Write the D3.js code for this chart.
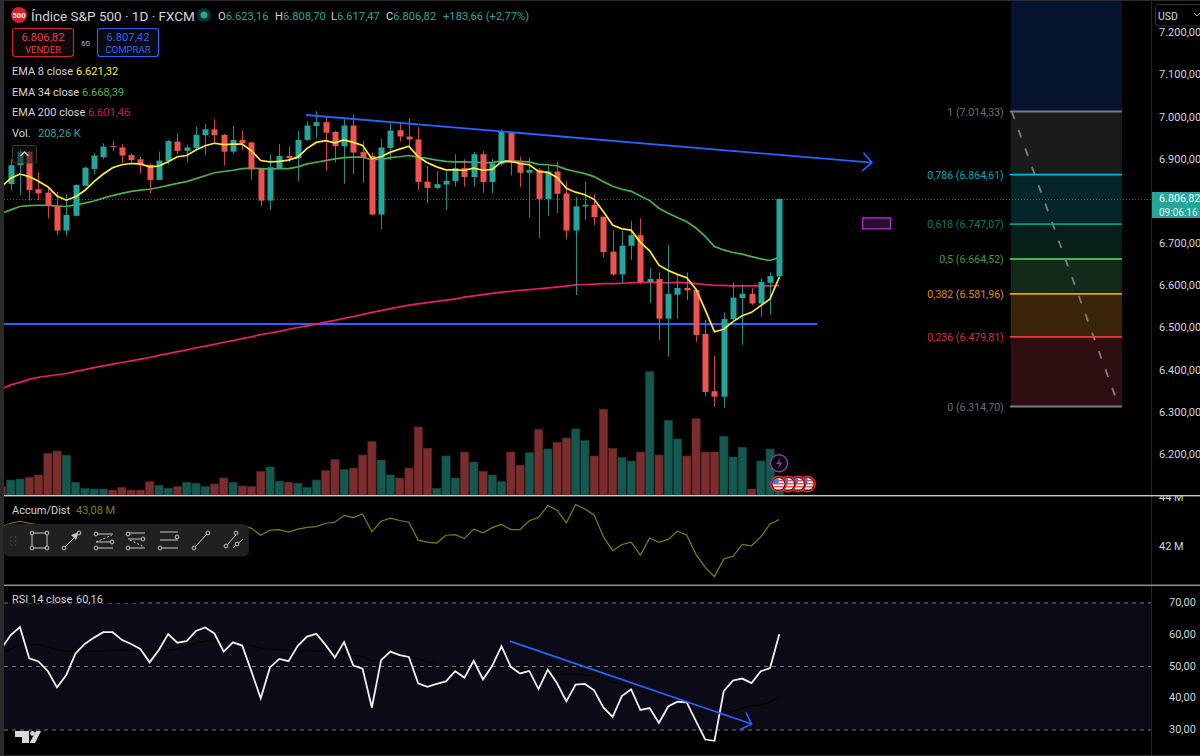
<!DOCTYPE html>
<html><head><meta charset="utf-8">
<script src="https://d3js.org/d3.v7.min.js"></script>
<style>html,body{margin:0;padding:0;background:#000;overflow:hidden}svg{display:block}text{font-family:Roboto,sans-serif}</style>
</head><body><svg id="c" width="1200" height="756"></svg>
<script>
// ---------- DATA ----------
const opens=[6842,6887,6919,6830,6822,6791,6732,6767,6838,6878,
6906,6932,6929,6911,6901,6888,6852,6897,6943,6921,
6928,6958,6972,6959,6919,6947,6941,6878,6803,6880,
6909,6903,6947,6980,6989,6966,6932,6981,6918,6909,
6770,6928,6970,6955,6948,6848,6833,6841,6849,6880,
6859,6913,6847,6890,6965,6894,6869,6876,6807,6872,
6820,6732,6789,6793,6765,6682,6628,6696,6721,6610,
6617,6523,6580,6596,6591,6487,6351,6338,6522,6572,
6582,6559,6608,6623.16];
const closes=[6887,6919,6828,6820,6790,6732,6769,6840,6881,6910,
6931,6930,6910,6899,6887,6852,6898,6944,6921,6929,
6959,6972,6958,6919,6947,6939,6877,6803,6882,6909,
6904,6947,6981,6989,6964,6932,6981,6917,6906,6770,
6929,6969,6955,6948,6847,6833,6842,6850,6880,6859,
6913,6847,6891,6967,6893,6869,6876,6807,6872,6819,
6732,6789,6793,6764,6681,6628,6696,6721,6610,6617,
6523,6582,6596,6590,6484,6349,6338,6522,6573,6582,
6559,6610,6624,6806.82];
const highs=[6901,6925,6921,6870,6836,6824,6818,6841,6883,6915,
6939,6945,6937,6915,6907,6891,6919,6947,6962,6936,
6978,6985,6996,6961,6980,6970,6943,6879,6913,6937,
6932,6968,6991,7015,7004,6969,6996,7008,6945,6917,
6949,6986,6990,6998,6977,6885,6873,6872,6913,6901,
6918,6921,6902,6972,6966,6907,6905,6880,6886,6895,
6848,6812,6848,6818,6765,6733,6731,6755,6761,6644,
6633,6697,6627,6633,6592,6520,6435,6538,6609,6600,
6595,6619,6633,6808.70];
const lows=[6827,6815,6803,6804,6761,6721,6720,6766,6838,6865,
6901,6921,6891,6893,6868,6820,6851,6889,6913,6893,
6925,6911,6939,6886,6913,6923,6853,6790,6781,6879,
6894,6850,6945,6952,6874,6893,6843,6866,6845,6768,
6735,6899,6943,6935,6828,6797,6830,6781,6836,6836,
6836,6822,6820,6884,6863,6835,6763,6714,6767,6773,
6711,6579,6757,6745,6668,6625,6607,6662,6605,6561,
6472,6433,6523,6567,6468,6340,6314,6311,6520,6461,
6555,6528,6533,6617.47];
// the series below start one session earlier (cut off at the pane's left edge)
const volumes=[116,
208,222,245,278,579,611,551,176,93,83,
83,69,106,69,69,185,134,93,116,176,
162,116,153,236,176,125,116,329,389,190,
176,162,106,208,338,495,352,375,556,741,
486,278,236,375,945,648,93,542,236,597,
458,329,278,185,597,412,588,912,639,732,
792,917,755,542,1190,648,519,472,597,1713,
556,1037,778,542,1060,597,597,815,528,662,
83,472,639,208.26];
const ema8=[6836,
6856,6866,6860,6849,6836,6814,6804,6812,6827,6848,
6866,6881,6888,6891,6890,6883,6885,6895,6907,6910,
6923,6933,6939,6936,6937,6937,6921,6898,6895,6896,
6899,6906,6927,6941,6945,6940,6947,6941,6934,6902,
6907,6918,6925,6932,6907,6893,6883,6876,6876,6875,
6880,6875,6877,6895,6896,6891,6888,6872,6870,6858,
6832,6823,6817,6806,6777,6745,6736,6733,6704,6684,
6650,6637,6628,6620,6593,6544,6492,6498,6516,6530,
6538,6554,6570,6621.32];
const ema34=[6773,
6781,6789,6791,6792,6792,6790,6789,6793,6797,6802,
6809,6815,6820,6825,6828,6830,6834,6839,6844,6848,
6855,6862,6869,6872,6875,6879,6880,6879,6878,6879,
6879,6883,6890,6894,6898,6902,6905,6906,6906,6900,
6901,6905,6907,6910,6906,6903,6899,6896,6895,6895,
6894,6893,6893,6897,6897,6896,6895,6889,6888,6885,
6877,6872,6867,6860,6848,6837,6830,6825,6814,6803,
6785,6773,6763,6753,6738,6718,6694,6686,6680,6676,
6670,6665,6661,6668.39];
const ema200=[6356,
6366,6372,6379,6384,6387,6390,6393,6398,6402,6407,
6411,6415,6419,6423,6427,6431,6436,6440,6445,6449,
6454,6458,6462,6467,6471,6476,6480,6485,6489,6493,
6498,6502,6506,6510,6515,6519,6524,6528,6533,6538,
6542,6547,6551,6555,6558,6561,6564,6567,6570,6574,
6577,6580,6583,6586,6588,6590,6592,6594,6596,6598,
6600,6603,6604,6605,6606,6606,6607,6608,6609,6609,
6609,6608,6609,6608,6606,6604,6602,6602,6601,6601,
6601,6601,6601,6601.46];
const accum=[42.79,
42.93,43.01,42.93,42.85,42.7,42.55,42.5,42.55,42.6,42.65,
42.7,42.7,42.72,42.7,42.68,42.6,42.62,42.68,42.7,42.75,
42.8,42.85,42.85,42.8,42.85,42.85,42.72,42.44,42.65,42.67,
42.57,42.69,42.76,42.79,42.93,42.97,43.25,43.16,43.31,42.58,
43.01,43.14,43.04,42.97,42.24,42.16,42.12,42.44,42.46,42.30,
42.69,42.54,42.75,42.88,42.67,42.67,43.03,43.17,43.65,43.46,
42.94,43.69,43.51,43.27,42.38,41.81,42.06,42.16,41.63,42.33,
42.15,42.27,42.60,42.45,41.66,41.13,40.75,41.47,41.58,42.07,
42.01,42.37,42.90,43.08];
const rsi=[55.7,
59.9,62.4,52.6,51.6,48.6,43.4,47.3,54.1,57.1,59.1,
60.8,60.8,58.4,57.1,55.5,51.3,55.2,60.2,57.5,58.0,
61.2,62.3,60.4,54.7,57.6,56.6,48.4,40.0,49.7,52.4,
51.7,56.5,59.4,60.3,56.8,52.8,57.7,50.3,49.3,37.1,
52.0,54.7,53.6,53.0,44.7,43.6,44.5,45.3,48.5,46.5,
51.8,45.9,50.2,56.4,49.9,47.8,48.6,42.9,49.0,44.7,
39.0,44.3,44.5,42.5,37.1,34.1,40.7,42.8,36.3,36.9,
32.2,37.4,38.9,38.7,32.8,27.0,26.6,42.2,45.6,46.2,
44.8,48.5,49.5,60.16];
const rsiMa=[54.1,
55.5,57,57,56.8,56.2,55.2,54.9,54.9,54.9,54.9,
54.9,55.1,55.2,55.3,55.4,54.7,54.4,55,55.5,56.2,
57.3,58,58.1,58,57.8,57.3,56.5,55.7,55.5,55.4,
55.2,55,55,55,54.9,54.1,53.9,53.6,53.2,51.7,
52,52.8,53.4,53.1,52.4,51.5,50.5,49.4,48.8,48.4,
48.4,48.6,48.9,49.4,49.4,48.9,48.4,48.2,48,47.7,
47.5,47.5,47.3,47.1,46.3,45,44.4,43.6,42.6,41.5,
40.8,40,39.1,38.9,37.7,36.3,35.8,35.6,36,36.8,
37.7,37.9,38.7,40.5];
const priceTicks=[7200,7100,7000,6900,6700,6600,6500,6400,6300,6200];
const accumTicks=[44,42];
const rsiTicks=[70,60,50,40,30];
const rsiBands=[70,50,30];
const fibRatios=[1,0.786,0.618,0.5,0.382,0.236,0];
const fibLabels=["1","0,786","0,618","0,5","0,382","0,236","0"];
const fibPrices=[7014.33,6864.61,6747.07,6664.52,6581.96,6479.81,6314.70];
const fibColors=["#7c7c7c","#00bcd4","#089981","#4caf50","#ff9800","#f23645","#7c7c7c"];
const fibLabelColors=["#6e6e6e","#00a5ba","#067a67","#3f9c44","#e08a00","#d32f3f","#6e6e6e"];
const fibFills=["#1b1b1b","#04262b","#071f19","#13291a","#3a2508","#2f0e12"];
const lastClose=6806.82;
const sellPrice="6.806,82", buyPrice="6.807,42", spread="60", countdown="09:06:16";
const supportPrice=6510.4;
const trendTop=[[31.9,7006],[93,6893]];
const trendRsi=[[53.9,58],[80,31.9]];
const boxDrawn={i0:92,i1:95,p0:6762,p1:6736};
const fibRange=[108,120];
const hLineEnd=87.1;

// ---------- SCALES ----------
const svg=d3.select("#c");
const W=1200,H=756,L=4,AX=1151.5;
const x=d3.scaleLinear().domain([0,83]).range([10.7,779.3]);
const y=d3.scaleLinear().domain([fibPrices[0],fibPrices[6]]).range([111.5,406.5]);
const yVol=d3.scaleLinear().domain([0,d3.max(volumes)]).range([495,371.7]);
const yAD=d3.scaleLinear().domain([44,42]).range([497,546]);
const yRsi=d3.scaleLinear().domain([70,30]).range([603,730]);
const locale=d3.formatLocale({decimal:",",thousands:".",grouping:[3],currency:["",""]});
const f2=locale.format(",.2f");
const UP="#26a69a",DN="#ef5350",T="#d1d4dc";

const defs=svg.append("defs");
const clip=(id,x0,y0,w,h)=>defs.append("clipPath").attr("id",id).append("rect").attr("x",x0).attr("y",y0).attr("width",w).attr("height",h);
clip("pMain",L,0,AX-L,495);
clip("pAD",L,496,AX-L,88);
clip("pRsi",L,586,AX-L,169);
clip("aMain",AX,0,W-AX,495);
clip("aAD",AX,496,W-AX,88);
clip("aRsi",AX,586,W-AX,169);

svg.append("rect").attr("width",W).attr("height",H).attr("fill","#000");

// ---------- MAIN PANE ----------
const main=svg.append("g").attr("clip-path","url(#pMain)");
// fib bands
const fibG=main.append("g");
fibFills.forEach((c,i)=>fibG.append("rect").attr("x",x(fibRange[0])).attr("width",x(fibRange[1])-x(fibRange[0]))
  .attr("y",y(fibPrices[i])).attr("height",y(fibPrices[i+1])-y(fibPrices[i])).attr("fill",c));
fibG.append("rect").attr("x",x(fibRange[0])).attr("width",x(fibRange[1])-x(fibRange[0])).attr("y",0).attr("height",y(fibPrices[0])).attr("fill","#05132f");
fibPrices.forEach((p,i)=>{
  fibG.append("line").attr("x1",x(fibRange[0])-1).attr("x2",x(fibRange[1])).attr("y1",y(p)).attr("y2",y(p)).attr("stroke",fibColors[i]).attr("stroke-width",1.8);
  main.append("text").attr("x",x(fibRange[0])-7).attr("y",y(p)+4).attr("text-anchor","end").attr("font-size",10.6).attr("fill",fibLabelColors[i])
    .text(`${fibLabels[i]} (${f2(p)})`);
});
fibG.append("line").attr("x1",x(fibRange[0])+1).attr("y1",y(fibPrices[0])).attr("x2",x(fibRange[1])-3).attr("y2",y(fibPrices[6]))
  .attr("stroke","#7c7c7c").attr("stroke-width",1.8).attr("stroke-dasharray","8 11.6");
// last price dotted
main.append("line").attr("x1",L).attr("x2",AX).attr("y1",y(lastClose)+.5).attr("y2",y(lastClose)+.5).attr("stroke",UP).attr("stroke-opacity",.65).attr("stroke-dasharray","1 2");

// volume
main.append("g").selectAll("rect").data(volumes).join("rect")
  .attr("x",(d,i)=>x(i-1)-4).attr("width",8.2).attr("y",d=>yVol(d)).attr("height",d=>495-yVol(d))
  .attr("fill",(d,i)=>{const k=i-1;return k<0||closes[k]<opens[k]?"#7b2c2c":"#15584f";})
  .attr("stroke",(d,i)=>{const k=i-1;return k<0||closes[k]<opens[k]?"#5e2324":"#114640";}).attr("stroke-width",.6);

// blue horizontal
const blue="#2962ff";
main.append("line").attr("x1",x(-1)).attr("x2",x(hLineEnd)).attr("y1",y(supportPrice)).attr("y2",y(supportPrice)).attr("stroke",blue).attr("stroke-width",1.8);

// EMA lines
const lineP=v=>d3.line().x((d,i)=>x(i-1)).y(d=>y(d))(v);
main.append("path").attr("d",lineP(ema200)).attr("fill","none").attr("stroke","#e91e63").attr("stroke-width",1.7);
main.append("path").attr("d",lineP(ema34)).attr("fill","none").attr("stroke","#4caf50").attr("stroke-width",1.7);

// candles
const cg=main.append("g");
opens.forEach((o,i)=>{
  const c=closes[i],col=c>=o?UP:DN;
  cg.append("line").attr("x1",Math.round(x(i))+.5).attr("x2",Math.round(x(i))+.5).attr("y1",y(highs[i])).attr("y2",y(lows[i])).attr("stroke",col).attr("stroke-opacity",.85);
  cg.append("rect").attr("x",Math.round(x(i))-2.5).attr("width",6).attr("y",y(Math.max(o,c))).attr("height",Math.max(1,Math.abs(y(o)-y(c)))).attr("fill",col);
});
main.append("path").attr("d",lineP(ema8)).attr("fill","none").attr("stroke","#ffeb3b").attr("stroke-width",1.7);

// arrow helper
function arrow(g,pts,sy,w){
  const [a,b]=pts, ax=x(a[0]),ay=sy(a[1]),bx=x(b[0]),by=sy(b[1]);
  const th=Math.atan2(by-ay,bx-ax),len=13;
  const hx=t=>bx+len*Math.cos(th+t),hy=t=>by+len*Math.sin(th+t);
  g.append("line").attr("x1",ax).attr("y1",ay).attr("x2",bx).attr("y2",by).attr("stroke",blue).attr("stroke-width",w);
  g.append("path").attr("d",`M${hx(Math.PI*.75)},${hy(Math.PI*.75)}L${bx},${by}L${hx(-Math.PI*.75)},${hy(-Math.PI*.75)}`).attr("fill","none").attr("stroke",blue).attr("stroke-width",1.6);
}
arrow(main,trendTop,y,1.8);
main.append("rect").attr("x",x(boxDrawn.i0)).attr("width",x(boxDrawn.i1)-x(boxDrawn.i0)).attr("y",y(boxDrawn.p0)).attr("height",y(boxDrawn.p1)-y(boxDrawn.p0))
  .attr("fill","#2a0f33").attr("stroke","#b02ac4").attr("stroke-width",1.4);

// event icons
function flag(cx,cy){
  const id="f"+Math.round(cx);
  defs.append("clipPath").attr("id",id).append("circle").attr("cx",cx).attr("cy",cy).attr("r",6);
  const g=main.append("g");
  g.append("circle").attr("cx",cx).attr("cy",cy).attr("r",7.6).attr("fill","#000").attr("stroke","#e0262f").attr("stroke-width",1.6);
  const f=g.append("g").attr("clip-path",`url(#${id})`);
  f.append("rect").attr("x",cx-7).attr("y",cy-7).attr("width",14).attr("height",14).attr("fill","#f4f4f4");
  [-4,-1,2,5].forEach(d=>f.append("rect").attr("x",cx-7).attr("y",cy+d).attr("width",14).attr("height",1.4).attr("fill","#e25454"));
  f.append("rect").attr("x",cx-7).attr("y",cy-7).attr("width",7).attr("height",7).attr("fill","#4b78d8");
}
[807.5,798,788,778.5].forEach(c=>flag(c,484));
main.append("circle").attr("cx",779).attr("cy",463.3).attr("r",8.5).attr("fill","#000").attr("stroke","#8e3aa8").attr("stroke-width",1.4);
main.append("path").attr("d","M781,457.5L776,464H779.5L777.5,469.5L782.5,462.5H779Z").attr("fill","#8e3aa8");

// ---------- ACCUM/DIST ----------
const ad=svg.append("g").attr("clip-path","url(#pAD)");
ad.append("path").attr("d",d3.line().x((d,i)=>x(i-1)).y(d=>yAD(d))(accum)).attr("fill","none").attr("stroke","#808000").attr("stroke-width",1.2);

// ---------- RSI ----------
const rg=svg.append("g").attr("clip-path","url(#pRsi)");
rg.append("rect").attr("x",L).attr("width",AX-L).attr("y",yRsi(70)).attr("height",yRsi(30)-yRsi(70)).attr("fill","#0c0a16");
rsiBands.forEach(b=>rg.append("line").attr("x1",L).attr("x2",AX).attr("y1",yRsi(b)).attr("y2",yRsi(b)).attr("stroke","#787878").attr("stroke-dasharray","4 4"));
const lr=d3.line().x((d,i)=>x(i-1)).y(d=>yRsi(d));
rg.append("path").attr("d",lr(rsiMa)).attr("fill","none").attr("stroke","#000").attr("stroke-width",1);
rg.append("path").attr("d",lr(rsi)).attr("fill","none").attr("stroke","#f0f0f0").attr("stroke-width",1.8);
arrow(rg,trendRsi,yRsi,1.7);

// ---------- AXES ----------
const axP=svg.append("g").attr("clip-path","url(#aMain)").append("g").attr("transform",`translate(${AX},-1)`)
  .call(d3.axisRight(y).tickValues(priceTicks).tickSize(0).tickPadding(7.5).tickFormat(f2));
const axA=svg.append("g").attr("clip-path","url(#aAD)").append("g").attr("transform",`translate(${AX},0)`)
  .call(d3.axisRight(yAD).tickValues(accumTicks).tickSize(0).tickPadding(7.5).tickFormat(d=>d+" M"));
const axR=svg.append("g").attr("clip-path","url(#aRsi)").append("g").attr("transform",`translate(${AX},-1)`)
  .call(d3.axisRight(yRsi).tickValues(rsiTicks).tickSize(0).tickPadding(17.5).tickFormat(f2));
[axP,axA,axR].forEach(a=>{a.select(".domain").remove();a.selectAll("text").attr("fill",T).attr("font-size",11).style("font-family","Roboto,sans-serif");});

// frame & separators
svg.append("rect").attr("x",0).attr("y",0).attr("width",L).attr("height",H).attr("fill","#2a2a2a");
svg.append("rect").attr("x",0).attr("y",0).attr("width",W).attr("height",1).attr("fill","#2a2a2a");
svg.append("rect").attr("x",0).attr("y",755).attr("width",W).attr("height",1).attr("fill","#2a2a2a");
svg.append("line").attr("x1",AX).attr("x2",AX).attr("y1",0).attr("y2",H).attr("stroke","#262626");
svg.append("rect").attr("x",L).attr("y",495).attr("width",W-L).attr("height",1.4).attr("fill","#c8c8c8");
svg.append("rect").attr("x",L).attr("y",584.5).attr("width",W-L).attr("height",1.6).attr("fill","#8a8a8a");

// price tag
svg.append("rect").attr("x",1152).attr("y",192).attr("width",48).attr("height",26).attr("fill",UP);
svg.append("text").attr("x",1159).attr("y",202).attr("font-size",10.8).attr("fill","#fff").text(f2(lastClose));
svg.append("text").attr("x",1159).attr("y",215.5).attr("font-size",10).attr("fill","#dff3f0").text(countdown);

// USD box
svg.append("rect").attr("x",1155.5).attr("y",4.5).attr("width",50).attr("height",21.5).attr("rx",3).attr("fill","#000").attr("stroke","#333");
svg.append("text").attr("x",1158).attr("y",19.5).attr("font-size",10.5).attr("fill",T).text("USD");
svg.append("path").attr("d","M1194,13l3,3l3,-3").attr("fill","none").attr("stroke","#aaa");

// ---------- HEADER & LEGENDS ----------
svg.append("circle").attr("cx",19).attr("cy",15).attr("r",8).attr("fill","#d3202c");
svg.append("text").attr("x",19).attr("y",17.8).attr("text-anchor","middle").attr("font-size",7.5).attr("font-weight",700).attr("fill","#fff").text("500");
svg.append("text").attr("x",31).attr("y",20.5).attr("font-size",13.5).attr("fill",T).text("Índice S&P 500 · 1D · FXCM");
svg.append("circle").attr("cx",204).attr("cy",15).attr("r",7).attr("fill","#0a2f2c");
svg.append("circle").attr("cx",204).attr("cy",15).attr("r",3.5).attr("fill",UP);
const ohlc=[["O","6.623,16",218],["H","6.808,70",275],["L","6.617,47",331],["C","6.806,82",386]];
ohlc.forEach(([k,v,px])=>{
  const t=svg.append("text").attr("x",px).attr("y",19.5).attr("font-size",11.2);
  t.append("tspan").attr("fill",T).text(k);
  t.append("tspan").attr("fill",UP).text(v);
});
svg.append("text").attr("x",443).attr("y",19.5).attr("font-size",11.2).attr("fill",UP).text("+183,66 (+2,77%)");

const btn=(bx,col,tcol,price,lbl)=>{
  svg.append("rect").attr("x",bx+.5).attr("y",28.5).attr("width",61).attr("height",28).attr("rx",3).attr("fill","#0a0a0a").attr("stroke",col).attr("stroke-width",1.2);
  svg.append("text").attr("x",bx+31).attr("y",41).attr("text-anchor","middle").attr("font-size",11.2).attr("fill",tcol).text(price);
  svg.append("text").attr("x",bx+31).attr("y",52.5).attr("text-anchor","middle").attr("font-size",9.6).attr("fill",tcol).text(lbl);
};
btn(12,"#d3202c","#f23645",sellPrice,"VENDER");
btn(97,"#2962ff","#2962ff",buyPrice,"COMPRAR");
svg.append("text").attr("x",85.5).attr("y",45.5).attr("text-anchor","middle").attr("font-size",8).attr("fill","#b0b3bb").text(spread);

const leg=(ty,a,vx,v,c)=>{
  svg.append("text").attr("x",12).attr("y",ty).attr("font-size",11).attr("fill",T).text(a);
  svg.append("text").attr("x",vx).attr("y",ty).attr("font-size",11).attr("fill",c).text(v);
};
leg(75,"EMA 8 close",76,"6.621,32","#ffeb3b");
leg(96,"EMA 34 close",82,"6.668,39","#4caf50");
leg(116,"EMA 200 close",88,"6.601,46","#c2185b");
leg(137,"Vol.",38,"208,26 K","#26a69a");
leg(514,"Accum/Dist",76,"43,08 M","#808000");
svg.append("rect").attr("x",8).attr("y",590).attr("width",132).attr("height",13).attr("fill","#000");
leg(603,"RSI 14 close",76,"60,16","#d1d4dc");

// collapse button
svg.append("rect").attr("x",12.5).attr("y",145.5).attr("width",24).attr("height",17.5).attr("rx",2).attr("fill","rgba(20,20,20,.55)").attr("stroke","#3a3a3a");
svg.append("path").attr("d","M20.5,156l4,-4l4,4").attr("fill","none").attr("stroke","#ccc").attr("stroke-width",1.3);

// drawing toolbar
const tb=svg.append("g");
tb.append("rect").attr("x",3).attr("y",524).attr("width",246).attr("height",32.5).attr("rx",6).attr("fill","#202020");
[[11,537],[15.5,537],[11,541],[15.5,541],[11,545],[15.5,545]].forEach(p=>tb.append("circle").attr("cx",p[0]).attr("cy",p[1]).attr("r",.8).attr("fill","#555"));
const ic="#c4c4c4";
const seg=(a,b,c,d,dash)=>tb.append("line").attr("x1",a).attr("y1",b).attr("x2",c).attr("y2",d).attr("stroke",ic).attr("stroke-width",1).attr("stroke-dasharray",dash||null);
const dot=(a,b)=>tb.append("circle").attr("cx",a).attr("cy",b).attr("r",1.9).attr("fill","#202020").attr("stroke",ic);
seg(32,533,47,533);seg(32,548,47,548);seg(32,533,32,548);seg(47,533,47,548);
[[32,533],[47,533],[32,548],[47,548]].forEach(p=>dot(...p));
seg(64,548,76,536);tb.append("path").attr("d","M79,532L71,535L76,540Z").attr("fill",ic);dot(64,548);dot(79,533);
seg(96,534,113,534);seg(96,542,113,542);seg(96,548,113,548);seg(96,542,112,535,"2 2");dot(96,534);dot(112,542);dot(96,548);
seg(128,533,145,533);seg(128,539,145,539);seg(128,548,145,548);seg(130,540,144,547,"2 2");dot(128,534);dot(143,539);dot(128,548);
seg(160,532,178,532);seg(160,540,178,540);seg(160,548,178,548);dot(177,537);dot(160,548);
seg(194,548,208,533);dot(194,548);dot(208,533);
seg(226,546,236,535);seg(233,548,243,539);dot(226,546);dot(236,533);dot(237,544);

// TV logo
svg.append("path").attr("d","M15,731H29V743H22V737H15ZM36,731H41L35,743H29.5Z").attr("fill","#d8d8d8");
svg.append("circle").attr("cx",32.6).attr("cy",733.4).attr("r",2.4).attr("fill","#d8d8d8");
</script></body></html>
